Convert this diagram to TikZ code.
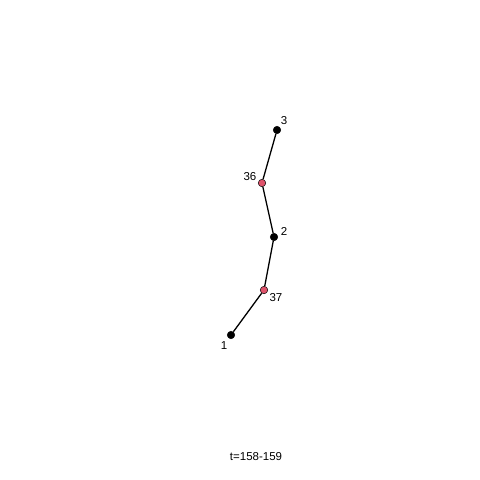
\documentclass[tikz,border=0pt]{standalone}
\usepackage{fontspec}
\setmainfont{Liberation Sans}
\definecolor{vred}{HTML}{DF536B}
\tikzset{
  vtx/.style={circle,draw=black,line width=0.5pt,inner sep=0pt,minimum size=7.5pt},
  lbl/.style={font=\fontsize{11.5}{13}\selectfont,inner sep=0pt}
}
\begin{document}
\begin{tikzpicture}[x=1pt,y=-1pt]
\useasboundingbox (0,0) rectangle (480,480);

 \node[vtx,fill=black] (v3) at (277,130) {};
 \node[vtx,fill=vred] (v36) at (262,183) {};
 \node[vtx,fill=black] (v2) at (274,237) {};
 \node[vtx,fill=vred] (v37) at (264,290) {};
 \node[vtx,fill=black] (v1) at (231,335) {};

 \draw[line width=1.3pt] (v3)--(v36);
 \draw[line width=1.3pt] (v36)--(v2);
 \draw[line width=1.3pt] (v2)--(v37);
 \draw[line width=1.3pt] (v37)--(v1);

 \node[lbl] (l3) at (284,121) {3};
 \node[lbl] (l36) at (250,177) {36};
 \node[lbl] (l2) at (284,231) {2};
 \node[lbl] (l37) at (276,298) {37};
 \node[lbl] (l1) at (224,346) {1};

 \node[lbl] (title) at (256,457) {t=158-159};
\end{tikzpicture}
\end{document}
